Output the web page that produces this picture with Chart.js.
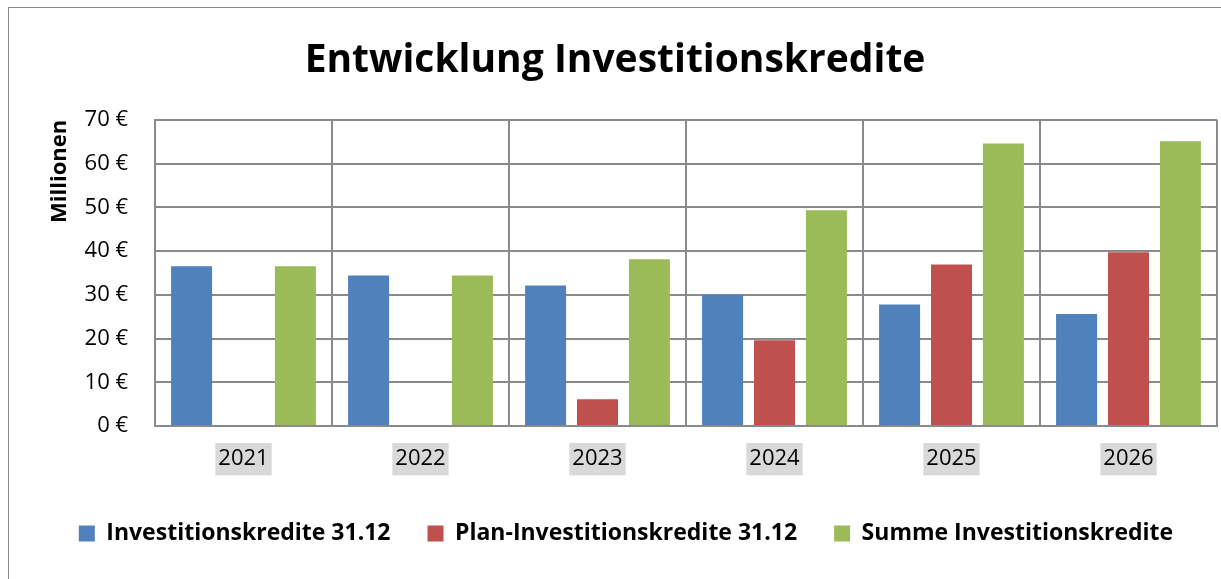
<!DOCTYPE html>
<html lang="de">
<head>
<meta charset="utf-8">
<title>Entwicklung Investitionskredite</title>
<script src="https://cdn.jsdelivr.net/npm/chart.js@4.4.1/dist/chart.umd.min.js"></script>
<style>
  html, body { margin: 0; padding: 0; background: #fff; }
  #wrap { position: relative; width: 1221px; height: 579px; overflow: hidden; }
  #frame { position: absolute; left: 8px; top: 7px; width: 1400px; height: 800px; border: 1px solid #8a8a8a; }
  #chart { position: absolute; left: 0; top: 0; }
</style>
</head>
<body>
<div id="wrap">
  <div id="frame"></div>
  <canvas id="chart" width="1221" height="579"></canvas>
</div>
<script>
  // Werte in Mio. €
  const YEARS = ['2021', '2022', '2023', '2024', '2025', '2026'];
  const KREDITE = [36.5, 34.4, 32.1, 30.0, 27.8, 25.6];
  const PLAN_KREDITE = [null, null, 6.1, 19.6, 36.9, 39.7];
  const SUMME = [36.5, 34.4, 38.1, 49.3, 64.6, 65.1];
  const Y_TICKS = [0, 10, 20, 30, 40, 50, 60, 70];

  const FONT = '"Open Sans", "Noto Sans", sans-serif';
  const GRID = '#8a8a8a';

  // Legende etwas nach rechts, wie im Original
  const shiftLegend = {
    id: 'shiftLegend',
    afterLayout(chart) {
      chart.legend.left += 11;
      chart.legend.right += 11;
    }
  };

  new Chart(document.getElementById('chart'), {
    type: 'bar',
    data: {
      labels: YEARS,
      datasets: [
        { label: 'Investitionskredite 31.12', data: KREDITE, backgroundColor: '#4F81BD' },
        { label: 'Plan-Investitionskredite 31.12', data: PLAN_KREDITE, backgroundColor: '#C0504D' },
        { label: 'Summe Investitionskredite', data: SUMME, backgroundColor: '#9BBB59' }
      ]
    },
    options: {
      responsive: false,
      animation: false,
      layout: { padding: { left: 13, right: 4, top: 0, bottom: 24 } },
      datasets: { bar: { categoryPercentage: 0.88, barPercentage: 0.79 } },
      scales: {
        x: {
          grid: { color: GRID, lineWidth: 2, drawTicks: false, offset: true },
          border: { color: GRID, width: 2 },
          ticks: {
            color: '#000',
            font: { family: FONT, size: 22 },
            padding: 20,
            showLabelBackdrop: true,
            backdropColor: '#d9d9d9',
            backdropPadding: { x: 3, y: 3 }
          },
          afterFit: s => { s.height = 59; }
        },
        y: {
          min: 0,
          max: 70,
          afterBuildTicks: s => { s.ticks = Y_TICKS.map(v => ({ value: v })); },
          grid: { color: GRID, lineWidth: 2, drawTicks: false },
          border: { color: GRID, width: 2 },
          ticks: {
            color: '#000',
            font: { family: FONT, size: 22 },
            padding: 27,
            callback: v => v + ' €'
          },
          title: {
            display: true,
            text: 'Millionen',
            align: 'end',
            color: '#000',
            font: { family: FONT, size: 22, weight: 'bold' },
            padding: { top: 34, bottom: 0 }
          },
          afterFit: s => { s.width = 142; }
        }
      },
      plugins: {
        title: {
          display: true,
          text: 'Entwicklung Investitionskredite',
          color: '#000',
          font: { family: FONT, size: 39, weight: 'bold' },
          padding: { top: 37, bottom: 36 }
        },
        legend: {
          position: 'bottom',
          labels: {
            color: '#000',
            font: { family: FONT, size: 23, weight: 'bold' },
            boxWidth: 16,
            boxHeight: 16,
            padding: 37
          }
        },
        tooltip: { enabled: false }
      }
    },
    plugins: [shiftLegend]
  });
</script>
</body>
</html>
